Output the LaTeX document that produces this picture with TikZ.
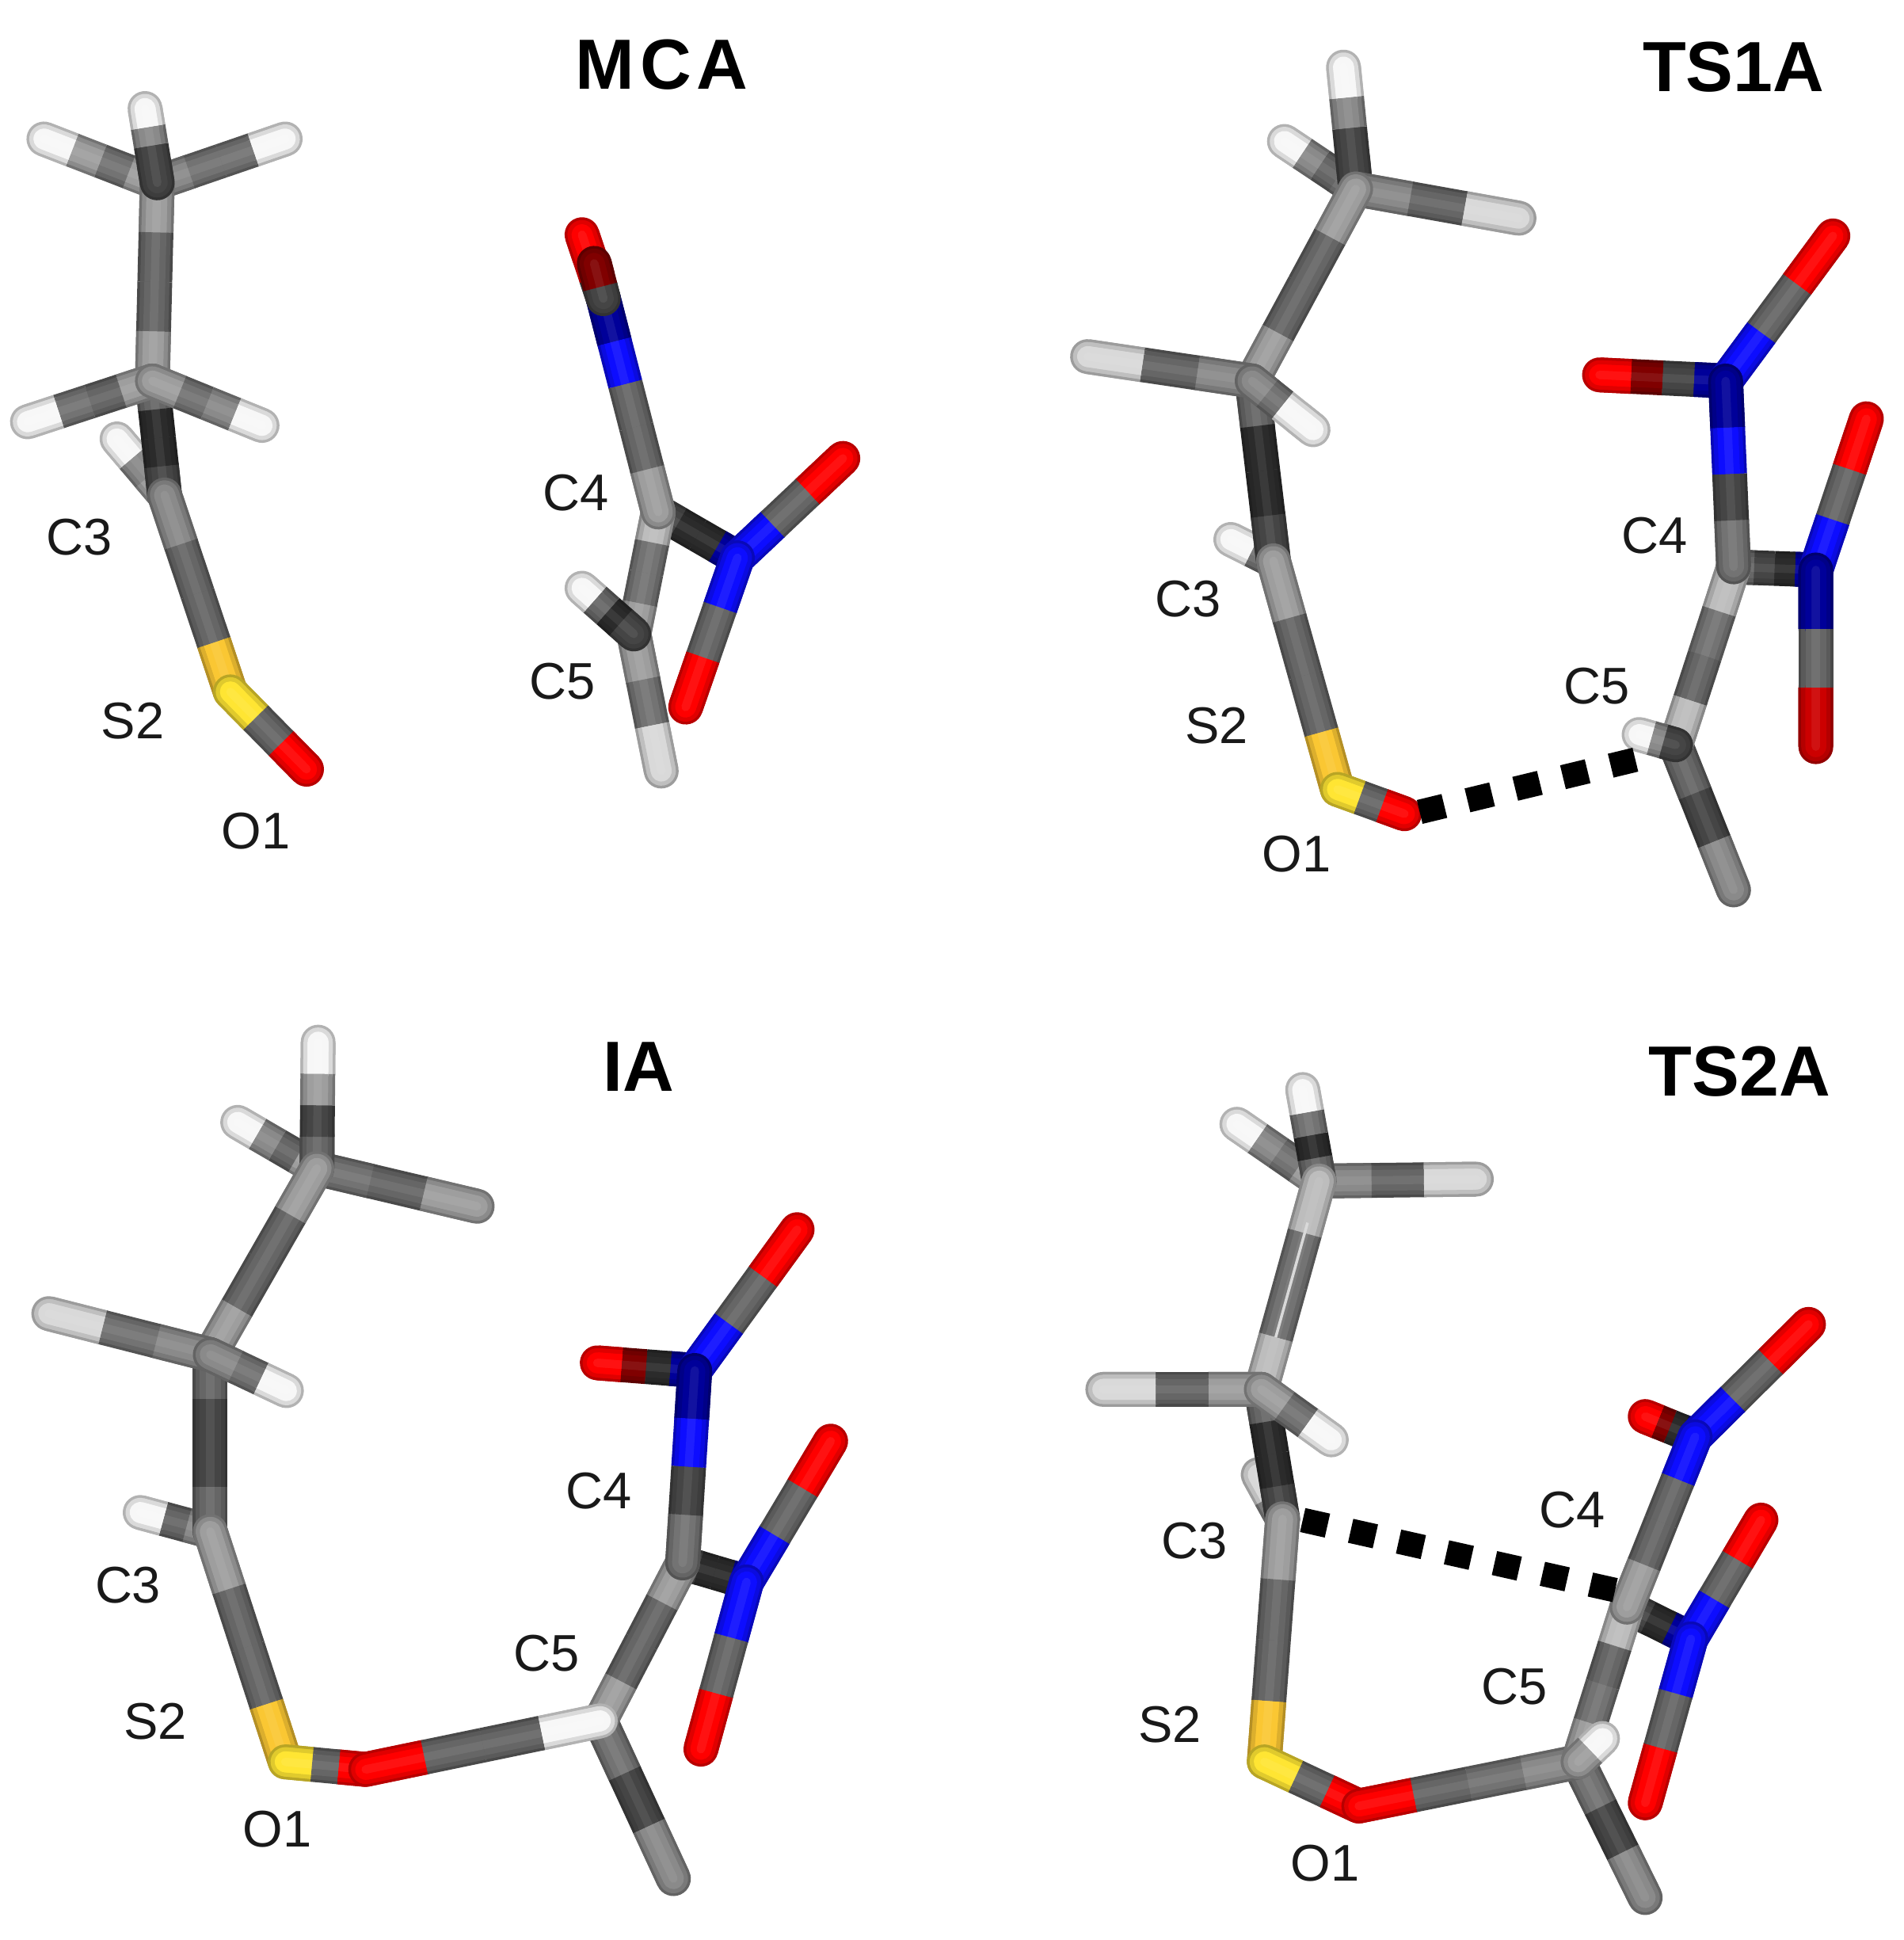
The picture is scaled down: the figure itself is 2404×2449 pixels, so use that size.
\documentclass[tikz,border=0pt]{standalone}
\usepackage{fontspec}
\setmainfont{Liberation Sans}
\usetikzlibrary{calc}
\definecolor{hw}{gray}{0.97}
\definecolor{hg}{gray}{0.85}
\definecolor{g8}{gray}{0.74}
\definecolor{g7}{gray}{0.62}
\definecolor{g6}{gray}{0.54}
\definecolor{g5}{gray}{0.45}
\definecolor{g4}{gray}{0.40}
\definecolor{g3}{gray}{0.27}
\definecolor{g2}{gray}{0.17}
\definecolor{nb}{rgb}{0.05,0.05,1}
\definecolor{nd}{rgb}{0,0,0.6}
\definecolor{ox}{rgb}{1,0,0}
\definecolor{rd}{rgb}{0.8,0,0}
\definecolor{od}{rgb}{0.5,0,0}
\definecolor{su}{rgb}{0.98,0.78,0.2}
\definecolor{sl}{rgb}{1,0.9,0.2}
\newcommand{\stick}[3]{%
	\foreach \X [count=\Y] in {#3} {\xdef\nband{\Y}}
	\foreach \W/\M/\T in {12.5pt/72/black,10.5pt/88/black,7.5pt/100/black,3pt/93/white}{
		\foreach \X [count=\Y] in {#3}{
			\pgfmathsetmacro\tA{(\Y-1)/\nband}
			\pgfmathsetmacro\tB{\Y/\nband}
			\ifnum\Y=1 \draw[line cap=round,line width=\W,draw=\X!\M!\T] (#1) -- ($(#1)!\tB!(#2)$);\fi
			\ifnum\Y=\nband \draw[line cap=round,line width=\W,draw=\X!\M!\T] ($(#1)!\tA!(#2)$) -- (#2);\fi
		}
		\foreach \X [count=\Y] in {#3}{
			\pgfmathsetmacro\tA{(\Y-1)/\nband}
			\pgfmathsetmacro\tB{\Y/\nband}
			\draw[line width=\W,draw=\X!\M!\T] ($(#1)!\tA!(#2)$) -- ($(#1)!\tB!(#2)$);
		}
	}
}
\begin{document}
\begin{tikzpicture}[x=0.01cm,y=-0.01cm,
		atomlabel/.style={font=\fontsize{18.5}{20}\selectfont,text=black!90,inner sep=0pt,yshift=1.5pt},
		panelname/.style={font=\fontsize{25.5}{27}\selectfont\bfseries,inner sep=0pt,yshift=0.3pt},
		tsbond/.style={line width=8.8pt,dash pattern=on 0.32cm off 0.30cm,draw=black}]
	\useasboundingbox (0,0) rectangle (2404,2449);
	% MCA
	\begin{scope}[x=0.00769cm,y=-0.00769cm]
		\path (258,300) coordinate (c1) (238,178) coordinate (h1) (72,228) coordinate (h2) (468,228) coordinate (h3)
		(250,625) coordinate (c2) (45,692) coordinate (h4) (430,698) coordinate (h5)
		(270,812) coordinate (c3) (192,720) coordinate (h6) (378,1135) coordinate (s2) (503,1262) coordinate (o1)
		(1080,840) coordinate (c4) (1040,1040) coordinate (c5) (955,965) coordinate (h7) (1085,1265) coordinate (h8)
		(990,490) coordinate (n1) (955,385) coordinate (oa) (975,432) coordinate (ob)
		(1210,915) coordinate (n2) (1383,752) coordinate (oc) (1125,1160) coordinate (od);
		\stick{c3}{h6}{g7,g6,hw}
		\stick{c1}{h2}{g7,g5,g7,hw}
		\stick{c1}{h3}{g6,g5,g5,hw}
		\stick{c1}{c2}{g7,g4,g4,g7}
		\stick{c1}{h1}{g3,g3,g6,hw}
		\stick{c2}{c3}{g4,g2,g2,g3}
		\stick{c2}{h4}{g7,g4,g5,hw}
		\stick{c2}{h5}{g7,g5,g6,hw}
		\stick{c3}{s2}{g6,g4,g4,su}
		\stick{s2}{o1}{sl,g4,ox}
		\stick{c4}{n2}{g3,g2,g2,nd}
		\stick{c5}{h8}{g7,g5,hg}
		\stick{c4}{c5}{g8,g5,g5,g7}
		\stick{c5}{h7}{g3,g2,g4,hw}
		\stick{n1}{oa}{g3,ox,ox}
		\stick{c4}{n1}{g7,g4,g4,nb,nd}
		\stick{n1}{ob}{g3,od,od}
		\stick{n2}{oc}{nb,g4,ox}
		\stick{n2}{od}{nb,g4,ox}
		\node[atomlabel] (mC3) at (130,888) {C3};
		\node[atomlabel] (mS2) at (218,1190) {S2};
		\node[atomlabel] (mO1) at (420,1370) {O1};
		\node[atomlabel] (mC4) at (945,815) {C4};
		\node[atomlabel] (mC5) at (923,1125) {C5};
		\node[panelname] (mname) at (1086,108) {M\kern2pt C\kern2pt A};
	\end{scope}
	% TS1A
	\begin{scope}[shift={(1200,0)},x=0.00769cm,y=-0.00769cm]
		\path (665,310) coordinate (c1) (645,110) coordinate (h1) (548,232) coordinate (h2) (933,358) coordinate (h3)
		(495,625) coordinate (c2) (225,585) coordinate (h4) (595,705) coordinate (h5)
		(530,920) coordinate (c3) (460,885) coordinate (h6) (635,1295) coordinate (s2) (745,1335) coordinate (o1)
		(1285,930) coordinate (c4) (1190,1222) coordinate (c5) (1130,1205) coordinate (h7) (1285,1460) coordinate (h8)
		(1272,625) coordinate (n1) (1065,615) coordinate (oa) (1448,387) coordinate (ob)
		(1420,935) coordinate (n2) (1503,687) coordinate (oc) (1420,1225) coordinate (od)
		(770,1332) coordinate (d1) (1150,1240) coordinate (d2);
		\stick{c1}{h2}{g5,g4,g6,hw}
		\stick{c1}{h1}{g3,g3,g6,hw}
		\stick{c1}{h3}{g6,g4,hg}
		\stick{c1}{c2}{g7,g4,g4,g7}
		\stick{c3}{h6}{g5,hw}
		\stick{c2}{c3}{g4,g2,g2,g3}
		\stick{c2}{h4}{g6,g4,hg}
		\stick{c2}{h5}{g6,g5,hw,hw}
		\stick{c3}{s2}{g7,g4,g4,su}
		\stick{s2}{o1}{sl,g4,ox}
		\stick{c4}{n2}{g4,g3,g2,nd}
		\stick{c5}{h8}{g4,g3,g6}
		\stick{c4}{c5}{g8,g5,g4,g8}
		\stick{c5}{h7}{g3,g6,hw}
		\stick{n1}{oa}{nd,g3,od,ox}
		\stick{n1}{ob}{nb,g4,ox}
		\stick{c4}{n1}{g5,g3,nb,nd}
		\stick{n2}{oc}{nb,g4,ox}
		\stick{n2}{od}{nd,g4,rd}
		\draw[tsbond] (d1) -- (d2);
		\node[atomlabel] (tC3) at (390,990) {C3};
		\node[atomlabel] (tS2) at (437,1198) {S2};
		\node[atomlabel] (tO1) at (568,1408) {O1};
		\node[atomlabel] (tC4) at (1155,885) {C4};
		\node[atomlabel] (tC5) at (1060,1132) {C5};
		\node[panelname] (tname) at (1285,112) {TS1A};
	\end{scope}
	% IA
	\begin{scope}[shift={(0,1200)},x=0.00769cm,y=-0.00797cm]
		\path (520,345) coordinate (c1) (522,145) coordinate (h1) (390,272) coordinate (h2) (783,405) coordinate (h3)
		(345,640) coordinate (c2) (80,575) coordinate (h4) (470,697) coordinate (h5)
		(345,920) coordinate (c3) (230,890) coordinate (h6) (468,1285) coordinate (s2) (600,1297) coordinate (o1)
		(1120,970) coordinate (c4) (985,1220) coordinate (c5) (1105,1470) coordinate (h8)
		(1140,665) coordinate (n1) (980,653) coordinate (oa) (1308,442) coordinate (ob)
		(1225,1000) coordinate (n2) (1363,777) coordinate (oc) (1150,1265) coordinate (od);
		\stick{c1}{h2}{g7,g4,g6,hw}
		\stick{c1}{h3}{g5,g4,g7}
		\stick{c1}{h1}{g4,g3,g7,hw}
		\stick{c1}{c2}{g7,g4,g4,g7}
		\stick{c3}{h6}{g6,g4,hw}
		\stick{c2}{c3}{g4,g3,g3,g4}
		\stick{c2}{h4}{g6,g5,hg}
		\stick{c2}{h5}{g6,g5,hw}
		\stick{c3}{s2}{g7,g4,g4,su}
		\stick{s2}{o1}{sl,g4,ox}
		\stick{c4}{n2}{g3,g2,g2,nd}
		\stick{c5}{h8}{g5,g3,g6}
		\stick{c4}{c5}{g7,g4,g4,g7}
		\stick{o1}{c5}{ox,g4,g4,hw}
		\stick{n1}{oa}{nd,g2,od,ox}
		\stick{n1}{ob}{nb,g4,ox}
		\stick{c4}{n1}{g5,g3,nb,nd}
		\stick{n2}{oc}{nb,g4,ox}
		\stick{n2}{od}{nb,g4,ox}
		\node[atomlabel] (iC3) at (210,1012) {C3};
		\node[atomlabel] (iS2) at (255,1227) {S2};
		\node[atomlabel] (iO1) at (455,1398) {O1};
		\node[atomlabel] (iC4) at (982,862) {C4};
		\node[atomlabel] (iC5) at (897,1120) {C5};
		\node[panelname] (iname) at (1048,185) {IA};
	\end{scope}
	% TS2A
	\begin{scope}[shift={(1200,1200)},x=0.00769cm,y=-0.00797cm]
		\path (605,365) coordinate (c1) (578,220) coordinate (h1) (470,275) coordinate (h2) (863,362) coordinate (h3)
		(510,695) coordinate (c2) (250,695) coordinate (h4) (625,775) coordinate (h5)
		(545,900) coordinate (c3) (505,830) coordinate (h6) (515,1285) coordinate (s2) (670,1355) coordinate (o1)
		(1110,1040) coordinate (c4) (1030,1285) coordinate (c5) (1070,1248) coordinate (h7) (1140,1500) coordinate (h8)
		(1222,770) coordinate (n1) (1140,738) coordinate (oa) (1408,592) coordinate (ob)
		(1215,1090) coordinate (n2) (1330,902) coordinate (oc) (1140,1350) coordinate (od)
		(578,902) coordinate (d1) (1100,1015) coordinate (d2);
		\stick{c3}{h6}{g6,hg}
		\stick{c1}{h2}{g7,g5,g6,hw}
		\stick{c1}{h3}{g6,g4,hg}
		\stick{c1}{h1}{g4,g2,g5,hw}
		\stick{c1}{c2}{g8,g5,g5,g8}
		\draw[line width=1pt,white!85!black] ($(c1)!0.2!(c2)$) -- ($(c1)!0.75!(c2)$);
		\stick{c2}{c3}{g4,g2,g2,g3}
		\stick{c2}{h4}{g7,g4,hg}
		\stick{c2}{h5}{g7,g5,hw}
		\stick{c3}{s2}{g7,g4,g4,su}
		\stick{s2}{o1}{sl,g4,ox}
		\stick{c4}{n2}{g3,g2,nd}
		\stick{c5}{h8}{g5,g3,g6}
		\stick{o1}{c5}{ox,g4,g5,g6}
		\stick{c4}{c5}{g8,g4,g5,g7}
		\stick{c5}{h7}{g7,hw}
		\stick{n1}{oa}{nd,g2,od,ox}
		\stick{n1}{ob}{nb,g4,ox}
		\stick{c4}{n1}{g7,g4,g4,nb}
		\stick{n2}{oc}{nb,g4,ox}
		\stick{n2}{od}{nb,g4,ox}
		\draw[tsbond] (d1) -- (d2);
		\node[atomlabel] (uC3) at (400,942) {C3};
		\node[atomlabel] (uS2) at (360,1233) {S2};
		\node[atomlabel] (uO1) at (615,1452) {O1};
		\node[atomlabel] (uC4) at (1020,892) {C4};
		\node[atomlabel] (uC5) at (925,1172) {C5};
		\node[panelname] (uname) at (1295,193) {TS2A};
	\end{scope}
\end{tikzpicture}
\end{document}
